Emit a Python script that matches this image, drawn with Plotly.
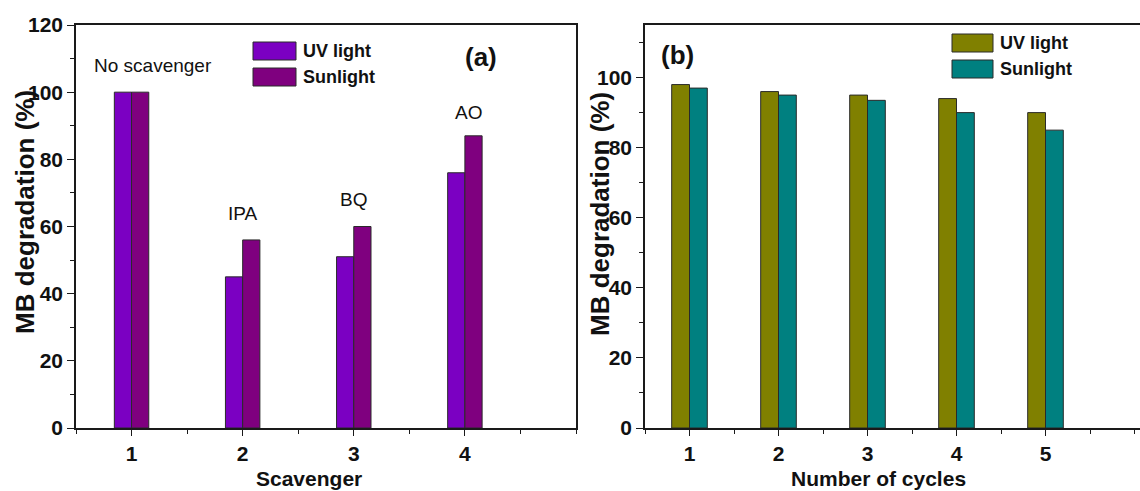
import plotly.graph_objects as go

# ---- data ----
scavenger_x = [1, 2, 3, 4]
scav_uv = [100, 45, 51, 76]
scav_sun = [100, 56, 60, 87]
scav_labels = ["No scavenger", "IPA", "BQ", "AO"]
scav_label_x = [1.19, 2.0, 3.0, 4.03]
scav_label_y = [108, 64, 68, 94]

cycles_x = [1, 2, 3, 4, 5]
cyc_uv = [98, 96, 95, 94, 90]
cyc_sun = [97, 95, 93.5, 90, 85]

series_names = ["UV light", "Sunlight"]

# ---- style ----
W, H = 1140, 491
C_UV_A, C_SUN_A = "#7B00C2", "#7F007F"
C_UV_B, C_SUN_B = "#808000", "#008080"
EDGE = "#2a2a2a"
AX = "#1a1a1a"
FONT = "Liberation Sans"


def px(x):
    return x / W


def py(y):
    return 1 - y / H


fig = go.Figure()

bw_a = 0.155
fig.add_trace(go.Bar(x=scavenger_x, y=scav_uv, name=series_names[0], width=bw_a, offset=-bw_a,
                     marker=dict(color=C_UV_A, line=dict(color=EDGE, width=1)),
                     xaxis="x", yaxis="y", showlegend=False))
fig.add_trace(go.Bar(x=scavenger_x, y=scav_sun, name=series_names[1], width=bw_a, offset=0,
                     marker=dict(color=C_SUN_A, line=dict(color=EDGE, width=1)),
                     xaxis="x", yaxis="y", showlegend=False))

bw_b = 0.2
fig.add_trace(go.Bar(x=cycles_x, y=cyc_uv, name=series_names[0], width=bw_b, offset=-bw_b,
                     marker=dict(color=C_UV_B, line=dict(color=EDGE, width=1)),
                     xaxis="x2", yaxis="y2", showlegend=False))
fig.add_trace(go.Bar(x=cycles_x, y=cyc_sun, name=series_names[1], width=bw_b, offset=0,
                     marker=dict(color=C_SUN_B, line=dict(color=EDGE, width=1)),
                     xaxis="x2", yaxis="y2", showlegend=False))

tickfont = dict(family=FONT, size=21, color="#111", weight="bold")
ydom = [py(428), py(25)]

common_x = dict(showgrid=False, zeroline=False, showline=True, linecolor=AX, linewidth=1.6,
                ticks="outside", ticklen=6, tickwidth=1.4, tickcolor=AX, tickfont=tickfont,
                automargin=False,
                minor=dict(ticks="outside", ticklen=4, tickwidth=1.2, tickcolor=AX, dtick=0.5, tick0=1, showgrid=False))
common_y = dict(showgrid=False, zeroline=False, showline=True, linecolor=AX, linewidth=1.6,
                ticks="outside", ticklen=7, tickwidth=1.4, tickcolor=AX, tickfont=tickfont,
                tickmode="linear", tick0=0, dtick=20, automargin=False,
                minor=dict(ticks="outside", ticklen=4, tickwidth=1.2, tickcolor=AX, dtick=10, tick0=0, showgrid=False))

fig.update_layout(
    width=W, height=H,
    margin=dict(l=0, r=0, t=0, b=0),
    paper_bgcolor="white", plot_bgcolor="white",
    barmode="overlay",
    xaxis=dict(domain=[px(76), px(576)], range=[0.5, 5.0], anchor="y", mirror=True,
               tickmode="array", tickvals=scavenger_x, ticktext=[str(v) for v in scavenger_x], **common_x),
    yaxis=dict(domain=ydom, range=[0, 120], anchor="x", mirror=True, **common_y),
    xaxis2=dict(domain=[px(645), 1.0], range=[0.5, 0.5 + (1140 - 645) / 89.0], anchor="y2", mirror=True,
                tickmode="array", tickvals=cycles_x, ticktext=[str(v) for v in cycles_x], **common_x),
    yaxis2=dict(domain=ydom, range=[0, 115], anchor="x2", mirror=False, **common_y),
)

ann = []
# category labels in panel (a)
for t, xv, yv in zip(scav_labels, scav_label_x, scav_label_y):
    ann.append(dict(x=xv, y=yv, xref="x", yref="y", text=t, showarrow=False,
                    font=dict(family=FONT, size=19, color="#111"), xanchor="center", yanchor="middle"))

# axis titles
title_font_y = dict(family=FONT, size=26, color="#111", weight="bold")
title_font_x = dict(family=FONT, size=21, color="#111", weight="bold")
ann.append(dict(x=px(25), y=py(212), xref="paper", yref="paper", text="MB degradation (%)", textangle=-90,
                showarrow=False, font=title_font_y, xanchor="center", yanchor="middle"))
ann.append(dict(x=px(600), y=py(214), xref="paper", yref="paper", text="MB degradation (%)", textangle=-90,
                showarrow=False, font=title_font_y, xanchor="center", yanchor="middle"))
ann.append(dict(x=px(309), y=py(478), xref="paper", yref="paper", text="Scavenger",
                showarrow=False, font=title_font_x, xanchor="center", yanchor="middle"))
ann.append(dict(x=px(878), y=py(478), xref="paper", yref="paper", text="Number of cycles",
                showarrow=False, font=title_font_x, xanchor="center", yanchor="middle"))

# panel labels
ann.append(dict(x=px(481), y=py(57), xref="paper", yref="paper", text="(a)", showarrow=False,
                font=dict(family=FONT, size=26, color="#111", weight="bold"), xanchor="center", yanchor="middle"))
ann.append(dict(x=px(677), y=py(55), xref="paper", yref="paper", text="(b)", showarrow=False,
                font=dict(family=FONT, size=26, color="#111", weight="bold"), xanchor="center", yanchor="middle"))

# custom legends (wide swatches)
shapes = []
legend_font = dict(family=FONT, size=18, color="#111", weight="bold")
legends = [
    (253, 296, [(42, 60), (68, 86)], [C_UV_A, C_SUN_A], 301),
    (952, 993, [(34, 52), (60, 78)], [C_UV_B, C_SUN_B], 998),
]
for x0, x1, rows, cols, tx in legends:
    for (y0, y1), c, name in zip(rows, cols, series_names):
        shapes.append(dict(type="rect", xref="paper", yref="paper", x0=px(x0), x1=px(x1),
                           y0=py(y1), y1=py(y0), fillcolor=c, line=dict(color=EDGE, width=1)))
        ann.append(dict(x=px(tx), y=py((y0 + y1) / 2), xref="paper", yref="paper", text=name,
                        showarrow=False, font=legend_font, xanchor="left", yanchor="middle"))

fig.update_layout(annotations=ann, shapes=shapes)

fig.write_html("out.html")
